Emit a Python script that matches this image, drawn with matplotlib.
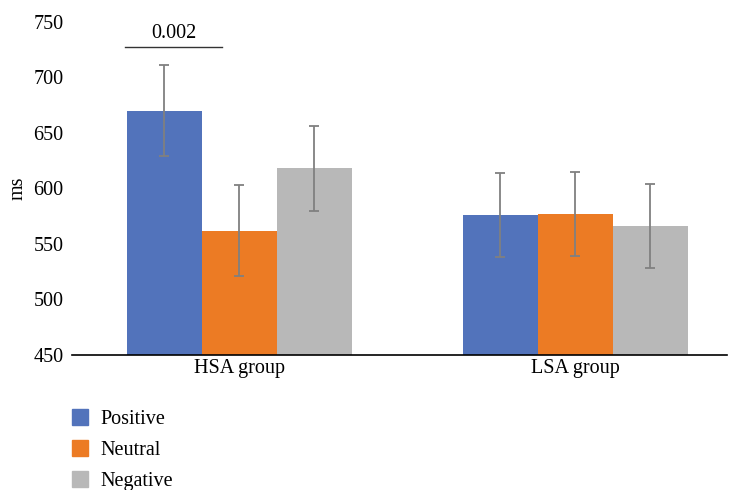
import numpy as np
from matplotlib import pyplot as plt
from matplotlib.lines import Line2D

# reaction times (ms) by group and valence
groups = ["HSA group", "LSA group"]
conditions = ["Positive", "Neutral", "Negative"]
means = {
    "Positive": [670, 576],
    "Neutral": [562, 577],
    "Negative": [618, 566],
}
errors = {
    "Positive": [41, 38],
    "Neutral": [41, 38],
    "Negative": [38, 38],
}
colors = ["#5273BB", "#EC7B24", "#B8B8B8"]
sig_label = "0.002"
sig_y = 727

plt.rcParams['font.family'] = ['Liberation Serif', 'DejaVu Serif']
fs = 14.5

fig = plt.figure(figsize=(7.34, 4.90), dpi=100)
ax = fig.add_axes([0.098, 0.2755, 0.892, 0.68])

x = np.arange(len(groups))
width = 0.223
for i, cond in enumerate(conditions):
    pos = x + (i - 1) * width
    ax.bar(pos, np.array(means[cond]) - 450, width, bottom=450, color=colors[i], label=cond)
    ax.errorbar(pos, means[cond], yerr=errors[cond], fmt='none', ecolor='#808080',
                elinewidth=1.3, capsize=3.5, capthick=1.3)

# significance marker over HSA positive vs neutral
ax.plot([-0.34, -0.052], [sig_y, sig_y], color='#333333', lw=1)
ax.text(-0.196, sig_y + 4, sig_label, ha='center', va='bottom', fontsize=fs)

ax.set_ylim(450, 750)
ax.set_xlim(-0.498, 1.45)
ax.set_yticks(np.arange(450, 751, 50))
ax.set_xticks(x)
ax.set_xticklabels(groups)
ax.tick_params(axis='both', length=0, labelsize=fs)
ax.tick_params(axis='y', pad=6)
ax.tick_params(axis='x', pad=3)
for s in ['top', 'right', 'left']:
    ax.spines[s].set_visible(False)
ax.spines['bottom'].set_color('black')
ax.spines['bottom'].set_linewidth(1.2)
ax.set_ylabel("ms", fontsize=fs, labelpad=4)

handles = [Line2D([], [], marker='s', linestyle='none', markersize=11,
                  markerfacecolor=c, markeredgecolor=c) for c in colors]
fig.legend(handles, conditions, loc='upper left', bbox_to_anchor=(0.068, 0.201),
           frameon=False, fontsize=fs, handletextpad=0.4, labelspacing=0.6,
           handlelength=1.2)

fig.savefig("out.png", dpi=100)
